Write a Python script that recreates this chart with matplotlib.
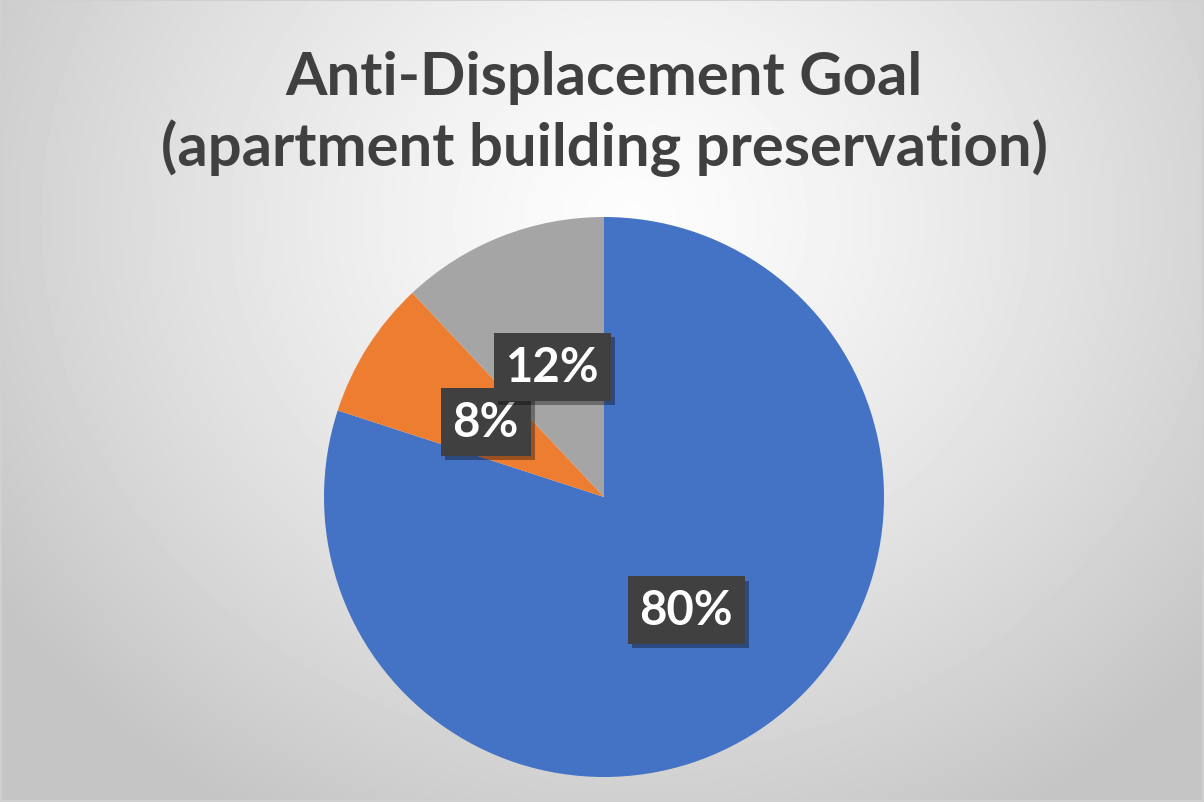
import numpy as np
import matplotlib.pyplot as plt
import matplotlib.patheffects as pe

# porcentajes de la meta anti-desplazamiento
categorias = ['Preservados', 'En proceso', 'Pendientes']
valores = [80, 8, 12]
colores = ['#4472C4', '#ED7D31', '#A5A5A5']
titulo = 'Anti-Displacement Goal\n(apartment building preservation)'

plt.rcParams['font.family'] = ['Lato', 'DejaVu Sans']
plt.rcParams['hatch.color'] = '#5c5c5c'
plt.rcParams['hatch.linewidth'] = 1.5

fig = plt.figure(figsize=(12.04, 8.03), dpi=100)

# fondo con degradado radial
bg = fig.add_axes([0, 0, 1, 1])
yy, xx = np.mgrid[0:803, 0:1204]
dist = np.hypot(xx - 630, (yy - 220) * 1.1) / 760.0
dist = np.clip(dist, 0, 1)
gris = 0.99 - 0.22 * dist ** 1.3
bg.imshow(gris, cmap='gray', vmin=0, vmax=1, aspect='auto', extent=[0, 1204, 803, 0])
bg.set_xlim(0, 1204)
bg.set_ylim(803, 0)
bg.plot([1, 1203, 1203, 1, 1], [1, 1, 802, 802, 1], color='#d0d0d0', lw=1.5)
bg.axis('off')

fig.text(0.502, 0.858, titulo, ha='center', va='center', fontsize=43,
         fontweight='bold', color='#404040', linespacing=1.3)

ax = fig.add_axes([324 / 1204, 25 / 803, 560 / 1204, 560 / 803])
wedges, _, textos = ax.pie(valores, colors=colores, startangle=90, counterclock=False,
                           radius=1, autopct='%1.0f%%', pctdistance=0.5,
                           wedgeprops={'linewidth': 0})
ax.set_xlim(-1, 1)
ax.set_ylim(-1, 1)
ax.set_aspect('equal')
ax.axis('off')

# cajas oscuras con sombra para las etiquetas
for t in textos:
    t.set_fontsize(34)
    t.set_fontweight('bold')
    t.set_color('white')
    t.set_zorder(4)
    t.set_bbox(dict(boxstyle='square,pad=0.25', fc='#404040', ec='none', hatch='..'))
    t.get_bbox_patch().set_path_effects([
        pe.SimplePatchShadow(offset=(3, -3), shadow_rgbFace='black', alpha=0.35),
        pe.Normal()])

plt.savefig('out.png', dpi=100)
